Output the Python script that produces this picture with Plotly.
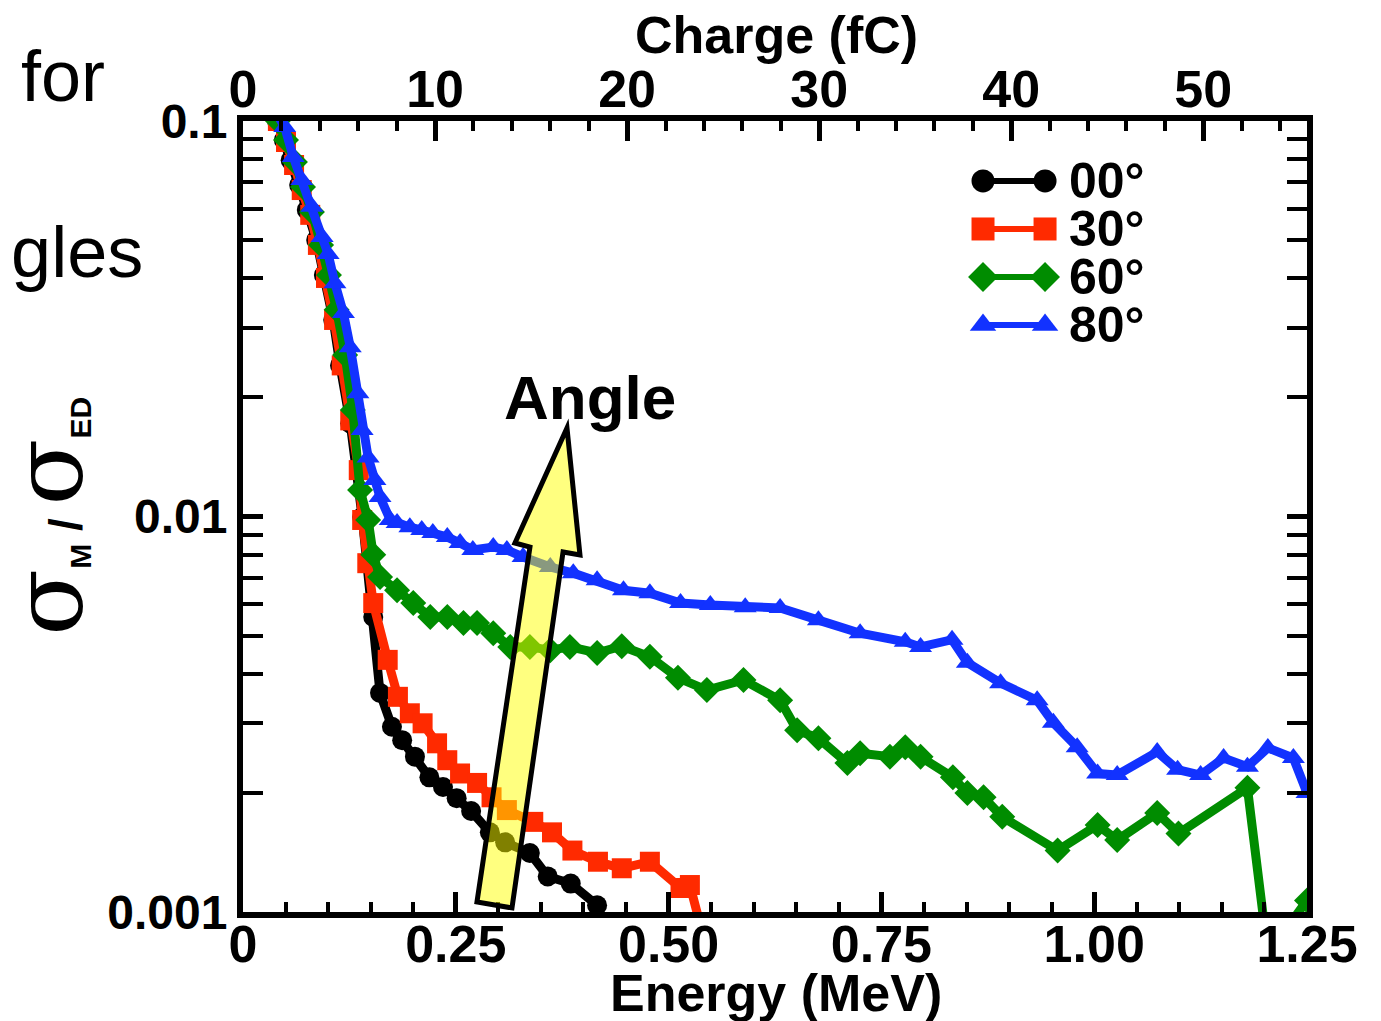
import plotly.graph_objects as go

# ---------------- data ----------------
series_names = ["00°", "30°", "60°", "80°"]

energy_00 = [0.040, 0.048, 0.056, 0.066, 0.075, 0.086, 0.095, 0.106, 0.114, 0.126, 0.140,
             0.153, 0.161, 0.175, 0.187, 0.202, 0.219, 0.235, 0.251, 0.268, 0.290, 0.308,
             0.337, 0.358, 0.385, 0.416]
ratio_00 = [0.100, 0.0895, 0.0796, 0.0689, 0.0596, 0.0500, 0.0408, 0.0314, 0.0241, 0.0172, 0.00997,
            0.00557, 0.00358, 0.00294, 0.00272, 0.00247, 0.00219, 0.00207, 0.00194, 0.00180, 0.00159,
            0.00150, 0.00141, 0.00123, 0.00118, 0.00104]

energy_30 = [0.041, 0.0505, 0.060, 0.069, 0.079, 0.088, 0.0975, 0.107, 0.116, 0.126, 0.136,
             0.140, 0.146, 0.153, 0.170, 0.182, 0.196, 0.211, 0.228, 0.240, 0.255, 0.275,
             0.292, 0.310, 0.341, 0.363, 0.387, 0.417, 0.445, 0.478, 0.514, 0.525, 0.540]
ratio_30 = [0.100, 0.0885, 0.0774, 0.0669, 0.0579, 0.0486, 0.0401, 0.0314, 0.0241, 0.0175, 0.0131,
            0.0098, 0.00762, 0.00604, 0.00434, 0.00350, 0.00318, 0.00300, 0.00267, 0.00242, 0.00224,
            0.00212, 0.00195, 0.00181, 0.00169, 0.00159, 0.00143, 0.00134, 0.00129, 0.00134,
            0.00115, 0.00117, 0.00088]

energy_60 = [0.041, 0.0505, 0.061, 0.0705, 0.081, 0.0917, 0.101, 0.110, 0.120, 0.129, 0.1375,
             0.147, 0.153, 0.161, 0.181, 0.200, 0.220, 0.240, 0.259, 0.275, 0.294, 0.314, 0.337,
             0.361, 0.384, 0.416, 0.445, 0.478, 0.511, 0.545, 0.588, 0.631, 0.651, 0.676, 0.710,
             0.725, 0.760, 0.778, 0.796, 0.834, 0.851, 0.870, 0.892, 0.957, 1.004, 1.027, 1.074,
             1.099, 1.180, 1.202, 1.228, 1.250]
ratio_60 = [0.100, 0.0895, 0.0788, 0.0681, 0.0589, 0.0486, 0.0408, 0.0333, 0.0256, 0.0186, 0.01167,
            0.0098, 0.0080, 0.00703, 0.00651, 0.00604, 0.00557, 0.00557, 0.00538, 0.00538, 0.00507,
            0.00468, 0.00468, 0.00459, 0.00468, 0.00452, 0.00470, 0.00442, 0.00391, 0.00364,
            0.00386, 0.00343, 0.00288, 0.00275, 0.00238, 0.00252, 0.00247, 0.00261, 0.00247,
            0.00219, 0.00200, 0.00195, 0.00174, 0.00143, 0.00166, 0.00152, 0.00178, 0.00158,
            0.00206, 0.00085, 0.00092, 0.00107]

energy_80 = [0.041, 0.049, 0.059, 0.069, 0.081, 0.093, 0.100, 0.108, 0.118, 0.126, 0.135, 0.140,
             0.147, 0.155, 0.161, 0.173, 0.181, 0.196, 0.210, 0.223, 0.240, 0.255, 0.270, 0.294,
             0.310, 0.329, 0.361, 0.388, 0.416, 0.447, 0.478, 0.514, 0.549, 0.590, 0.631, 0.676,
             0.725, 0.778, 0.796, 0.833, 0.851, 0.890, 0.933, 0.952, 0.980, 1.004, 1.027, 1.074,
             1.098, 1.125, 1.152, 1.180, 1.204, 1.234, 1.250]
ratio_80 = [0.103, 0.0966, 0.0811, 0.0709, 0.0607, 0.0509, 0.0461, 0.0389, 0.0327, 0.0268, 0.0205,
            0.01655, 0.0141, 0.01236, 0.0112, 0.0098, 0.00963, 0.0094, 0.00924, 0.00908, 0.00887,
            0.00857, 0.00823, 0.00837, 0.00823, 0.00790, 0.00745, 0.00719, 0.00690, 0.00651,
            0.00640, 0.00604, 0.00597, 0.00590, 0.00587, 0.00547, 0.00507, 0.00482, 0.00468,
            0.00488, 0.00427, 0.00379, 0.00343, 0.00301, 0.00261, 0.00224, 0.00222, 0.00254,
            0.00229, 0.00222, 0.00245, 0.00233, 0.00260, 0.00245, 0.00200]

energy_ticks = [0, 0.25, 0.5, 0.75, 1.0, 1.25]
energy_tick_text = ["0", "0.25", "0.50", "0.75", "1.00", "1.25"]
charge_ticks = [0, 10, 20, 30, 40, 50]
charge_max = 55.4          # charge (fC) at the right edge (1.25 MeV)
ratio_ticks = [0.001, 0.01, 0.1]
ratio_tick_text = ["0.001", "0.01", "0.1"]

# ---------------- styling ----------------
colors = ["#000000", "#ff2a00", "#008c00", "#1232ff"]
symbols = ["circle", "square", "diamond", "triangle-up"]
energies = [energy_00, energy_30, energy_60, energy_80]
ratios = [ratio_00, ratio_30, ratio_60, ratio_80]

SANS = "Liberation Sans"
fig = go.Figure()

for name, e, r, c, s in zip(series_names, energies, ratios, colors, symbols):
    fig.add_trace(go.Scatter(
        x=e, y=r, mode="lines+markers", name=name, showlegend=False,
        line=dict(color=c, width=9),
        marker=dict(symbol=s, size=20, color=c, line=dict(width=0)),
    ))

# custom legend keys (line with marker at both ends), drawn on a hidden helper axis
for i, (c, s) in enumerate(zip(colors, symbols)):
    fig.add_trace(go.Scatter(
        x=[0, 1], y=[i, i], mode="lines+markers", showlegend=False, cliponaxis=False,
        xaxis="x3", yaxis="y3", hoverinfo="skip",
        line=dict(color=c, width=6),
        marker=dict(symbol=s, size=23, color=c, line=dict(width=0)),
    ))

# empty trace to make the top (charge) axis exist
fig.add_trace(go.Scatter(x=[None], y=[None], xaxis="x2", showlegend=False, hoverinfo="skip"))

minor_log = [k * 10 ** p for p in (-3, -2) for k in range(2, 10)]

tickfont = dict(family=SANS, size=52, color="black", weight="bold")
# page body has an 8px default margin: figure is sized/margined to compensate
fig.update_layout(
    width=1373, height=1013,
    margin=dict(l=235, r=74, t=113, b=109),
    paper_bgcolor="white", plot_bgcolor="white",
    xaxis=dict(
        range=[0, 1.25], showgrid=False, zeroline=False,
        showline=True, linecolor="black", linewidth=6,
        ticks="inside", ticklen=20, tickwidth=5, tickcolor="black",
        tickvals=energy_ticks, ticktext=energy_tick_text,
        tickfont=tickfont, ticklabelstandoff=-18,
        minor=dict(ticks="inside", ticklen=10, tickwidth=4, tickcolor="black",
                   dtick=0.05, tick0=0, showgrid=False),
    ),
    xaxis2=dict(
        overlaying="x", side="top", anchor="y",
        range=[0, charge_max], showgrid=False, zeroline=False,
        showline=True, linecolor="black", linewidth=6,
        ticks="inside", ticklen=20, tickwidth=5, tickcolor="black",
        tickvals=charge_ticks, ticktext=[str(v) for v in charge_ticks],
        tickfont=tickfont, ticklabelstandoff=-13,
        minor=dict(ticks="inside", ticklen=10, tickwidth=4, tickcolor="black",
                   dtick=2, tick0=0, showgrid=False),
    ),
    yaxis=dict(
        type="log", range=[-3, -1], showgrid=False, zeroline=False,
        showline=True, linecolor="black", linewidth=6, mirror="allticks",
        ticks="inside", ticklen=20, tickwidth=5, tickcolor="black",
        tickvals=ratio_ticks, ticktext=ratio_tick_text,
        tickfont=dict(family=SANS, size=48, color="black", weight="bold"),
        ticklabelstandoff=0,
        minor=dict(ticks="inside", ticklen=10, tickwidth=4, tickcolor="black",
                   tickvals=minor_log, showgrid=False),
    ),
    xaxis3=dict(domain=[0.6955, 0.7538], range=[0, 1], visible=False, anchor="y3"),
    yaxis3=dict(domain=[0.7118, 0.9545], range=[3.5, -0.5], visible=False, anchor="x3"),
)

annotations = []
# legend labels
for i, name in enumerate(series_names):
    annotations.append(dict(
        x=0.7745, xref="paper", y=i, yref="y3", text=name, showarrow=False,
        xanchor="left", yanchor="middle",
        font=dict(family=SANS, size=50, color="black", weight="bold")))

# axis titles
annotations.append(dict(x=0.501, y=-0.1024, xref="paper", yref="paper", text="Energy (MeV)",
                        showarrow=False, xanchor="center", yanchor="middle",
                        font=dict(family=SANS, size=52, color="black", weight="bold")))
annotations.append(dict(x=0.501, y=1.1087, xref="paper", yref="paper", text="Charge (fC)",
                        showarrow=False, xanchor="center", yanchor="middle",
                        font=dict(family=SANS, size=52, color="black", weight="bold")))
ytitle = ('<span style="font-family:DejaVu Serif;font-size:98px;font-weight:normal">σ</span>'
          '<sub><span style="font-size:30px">M</span></sub>'
          '<span style="font-size:46px"> / </span>'
          '<span style="font-family:DejaVu Serif;font-size:98px;font-weight:normal">σ</span>'
          '<sub><span style="font-size:30px">ED</span></sub>')
annotations.append(dict(x=-0.184, y=0.5, xref="paper", yref="paper", text=ytitle,
                        showarrow=False, textangle=-90, xanchor="center", yanchor="middle",
                        font=dict(family=SANS, size=44, color="black", weight="bold")))
# "Angle" label
annotations.append(dict(x=0.3261, y=0.651, xref="paper", yref="paper", text="Angle",
                        showarrow=False, xanchor="center", yanchor="middle",
                        font=dict(family=SANS, size=62, color="black", weight="bold")))
# cut-off slide text on the left
annotations.append(dict(x=-0.1278, y=1.0563, xref="paper", yref="paper", text="for",
                        showarrow=False, xanchor="right", yanchor="middle",
                        font=dict(family=SANS, size=72, color="black")))
annotations.append(dict(x=-0.0921, y=0.835, xref="paper", yref="paper", text="angles",
                        showarrow=False, xanchor="right", yanchor="middle",
                        font=dict(family=SANS, size=72, color="black")))
fig.update_layout(annotations=annotations)

# yellow "Angle" arrow
arrow_path = ("M 0.3045,0.6119 L 0.3167,0.4513 L 0.3008,0.4551 L 0.2528,0.0051 "
              "L 0.2199,0.0126 L 0.2697,0.4614 L 0.2556,0.4665 Z")
fig.add_shape(type="path", path=arrow_path, xref="paper", yref="paper", layer="above",
              fillcolor="rgba(255,255,0,0.5)", line=dict(color="black", width=5))

fig.write_html("out.html")
